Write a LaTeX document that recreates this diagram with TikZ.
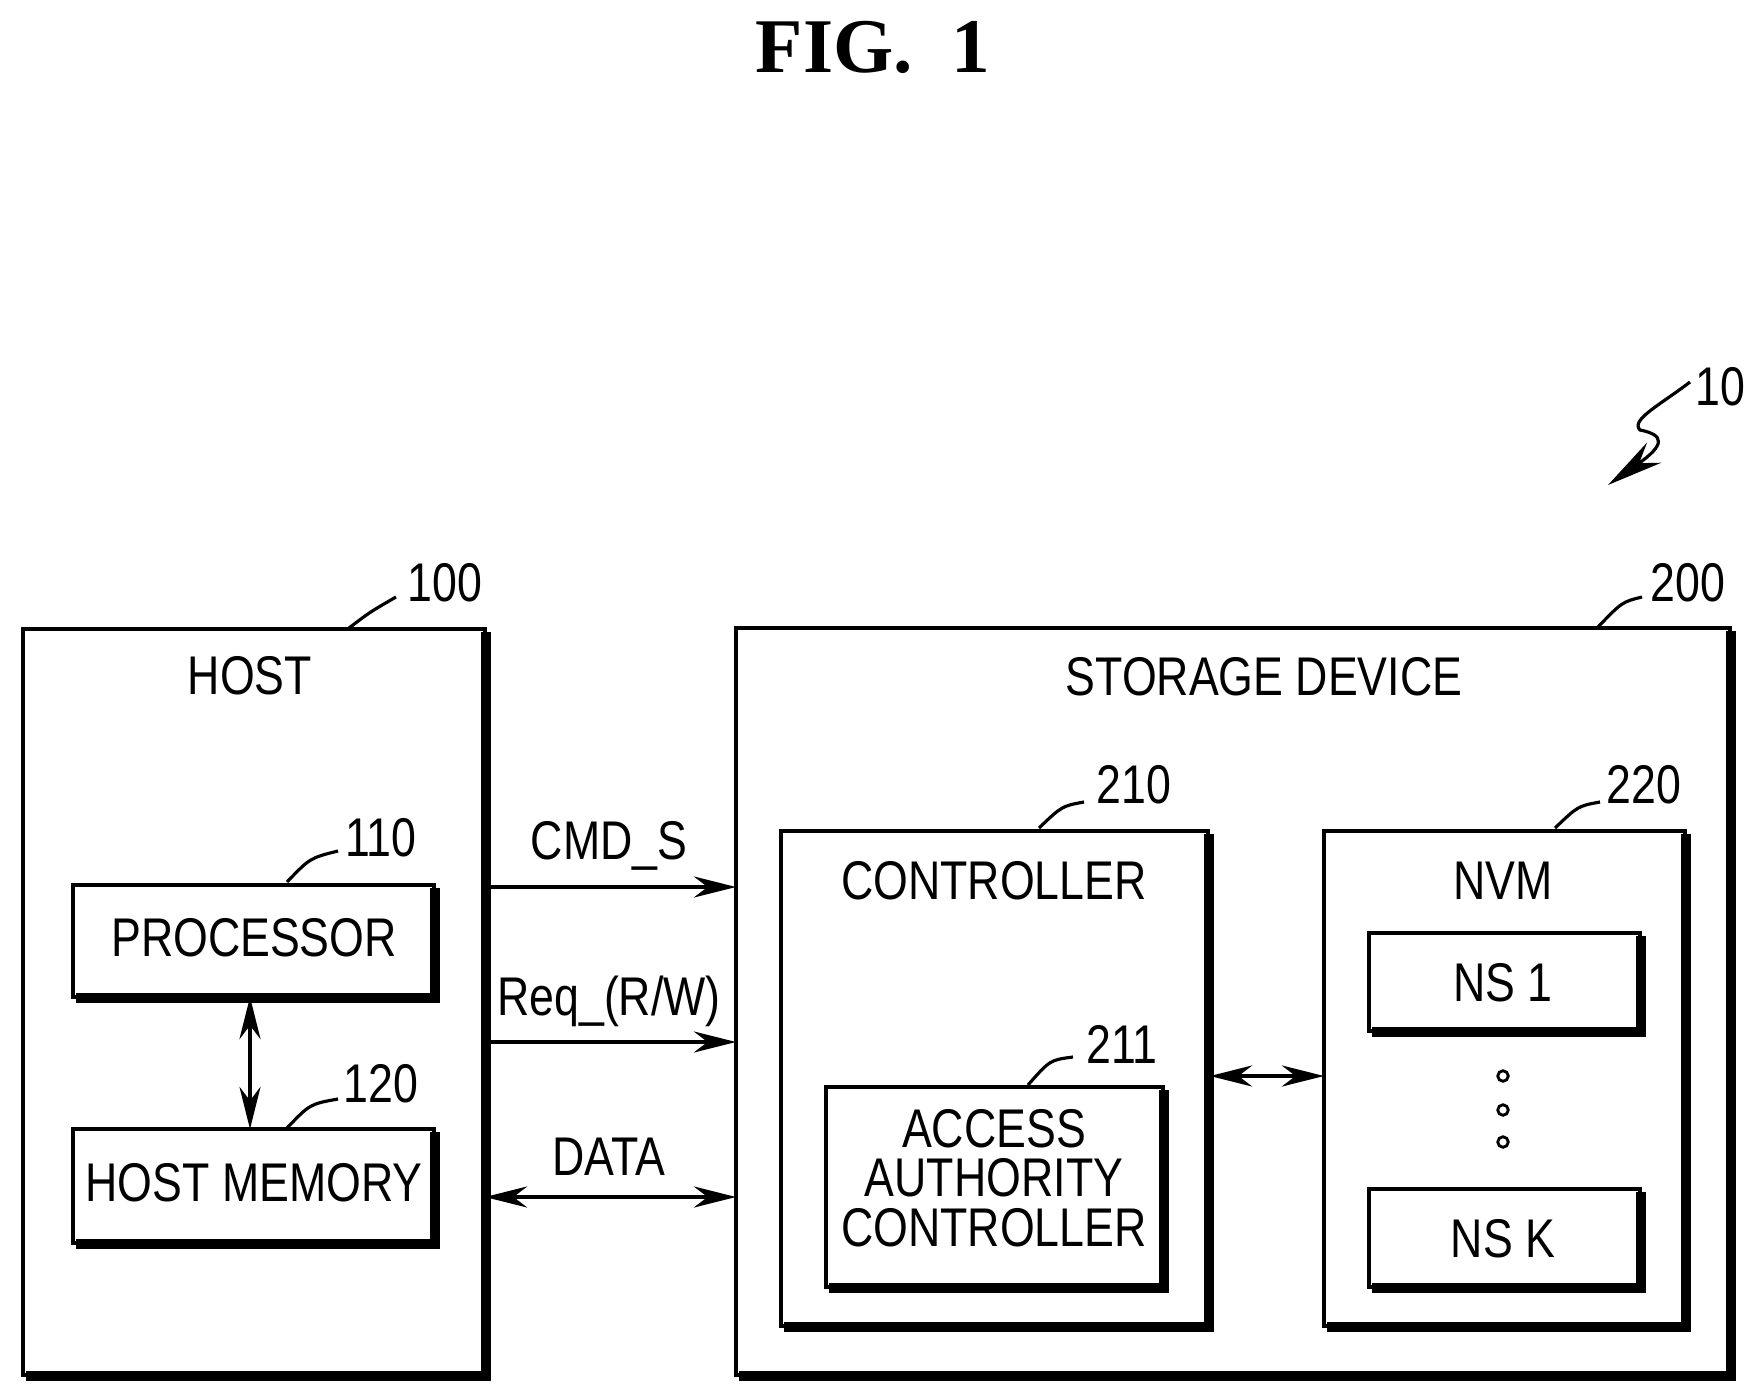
\documentclass[tikz,border=0pt]{standalone}
\usepackage{fontspec}
\setmainfont{Liberation Sans}[FakeStretch=0.82]
\newfontfamily\titlefont{Liberation Serif}
\usetikzlibrary{arrows.meta}
\begin{document}
\begin{tikzpicture}[x=0.01cm,y=-0.01cm,
  lbl/.style={font=\fontsize{15.5}{18}\selectfont,inner sep=0pt,align=center},
  box/.style={draw,line width=1.1pt},
  arr/.style={line width=1pt,-{Stealth[length=12pt,width=6pt]}},
  darr/.style={line width=1pt,{Stealth[length=12pt,width=6pt]}-{Stealth[length=12pt,width=6pt]}},
  lead/.style={line width=0.9pt}]
\useasboundingbox (0,0) rectangle (1758,1394);
\newcommand{\shbox}[5]{% name, x1,y1,x2,y2
  \draw[box] (#2,#3) rectangle (#4,#5);
  \coordinate (#1) at ({(#2+#4)/2},{(#3+#5)/2});
  \draw[line width=3pt] (#4+1,#3+3) -- (#4+1,#5+1) -- (#2+3,#5+1);}
\node[font=\titlefont\bfseries\fontsize{22}{26}\selectfont] (title) at (873,47) {FIG.\ \ 1};
% ref 10
\node[lbl] (r10) at (1720,387) {10};
\coordinate (s0) at (1690,382);
\coordinate (s3) at (1608,485);
\draw[line width=0.9pt,-{Stealth[length=16pt,width=7pt]}] (s0) .. controls (1660,405) and (1630,420) .. (1640,430) .. controls (1665,435) and (1665,445) .. (s3);
% host
\shbox{host}{23}{629}{485}{1375}
\node[lbl] (hostt) at (250,676) {HOST};
\node[lbl] (r100) at (445,583) {100};
\coordinate (h1) at (349,628); \coordinate (h2) at (396,597);
\draw[lead] (h1) .. controls (370,612) .. (h2);
\shbox{proc}{73}{885}{434}{997}
\node[lbl] (proct) at (254,938) {PROCESSOR};
\node[lbl] (r110) at (381,838) {110};
\coordinate (p1) at (287,882); \coordinate (p2) at (338,851);
\draw[lead] (p1) .. controls (310,858) .. (p2);
\shbox{mem}{73}{1129}{434}{1243}
\node[lbl] (memt) at (254,1183) {HOST MEMORY};
\node[lbl] (r120) at (381,1084) {120};
\coordinate (m1) at (287,1128); \coordinate (m2) at (338,1099);
\draw[lead] (m1) .. controls (310,1104) .. (m2);
\coordinate (pb) at (250,997); \coordinate (mt) at (250,1129);
\draw[darr] (pb) -- (mt);
% storage
\shbox{stor}{736}{628}{1730}{1375}
\node[lbl] (stort) at (1264,677) {STORAGE DEVICE};
\node[lbl] (r200) at (1688,583) {200};
\coordinate (st1) at (1598,627); \coordinate (st2) at (1642,597);
\draw[lead] (st1) .. controls (1622,602) .. (st2);
\shbox{ctrl}{781}{831}{1208}{1326}
\node[lbl] (ctrlt) at (994,881) {CONTROLLER};
\node[lbl] (r210) at (1134,785) {210};
\coordinate (c1) at (1039,828); \coordinate (c2) at (1084,802);
\draw[lead] (c1) .. controls (1062,806) .. (c2);
\shbox{acc}{826}{1087}{1163}{1287}
\node[lbl] (acct) at (994,1178) {ACCESS\\[-4pt]AUTHORITY\\[-4pt]CONTROLLER};
\node[lbl] (r211) at (1122,1044) {211};
\coordinate (a1) at (1028,1085); \coordinate (a2) at (1073,1057);
\draw[lead] (a1) .. controls (1050,1060) .. (a2);
\shbox{nvm}{1324}{831}{1685}{1326}
\node[lbl] (nvmt) at (1503,881) {NVM};
\node[lbl] (r220) at (1644,785) {220};
\coordinate (n1) at (1555,828); \coordinate (n2) at (1600,802);
\draw[lead] (n1) .. controls (1578,806) .. (n2);
\shbox{ns1}{1369}{933}{1640}{1031}
\node[lbl] (ns1t) at (1503,983) {NS 1};
\shbox{nsk}{1369}{1189}{1640}{1287}
\node[lbl] (nskt) at (1503,1239) {NS K};
\foreach \y/\n in {1076/d1,1110/d2,1142/d3} \draw[line width=0.8pt] (1503,\y) circle (1.5pt) coordinate (\n);
% connectors
\coordinate (hA) at (485,887); \coordinate (sA) at (736,887);
\coordinate (hB) at (485,1042); \coordinate (sB) at (736,1042);
\coordinate (hC) at (485,1197); \coordinate (sC) at (736,1197);
\draw[arr] (hA) -- (sA);
\draw[arr] (hB) -- (sB);
\draw[darr] (hC) -- (sC);
\node[lbl] (cmd) at (609,846) {CMD\_S};
\node[lbl] (req) at (609,1001) {Req\_(R/W)};
\node[lbl] (data) at (609,1157) {DATA};
\coordinate (cN) at (1210,1076); \coordinate (nN) at (1324,1076);
\draw[darr] (cN) -- (nN);
\end{tikzpicture}
\end{document}
